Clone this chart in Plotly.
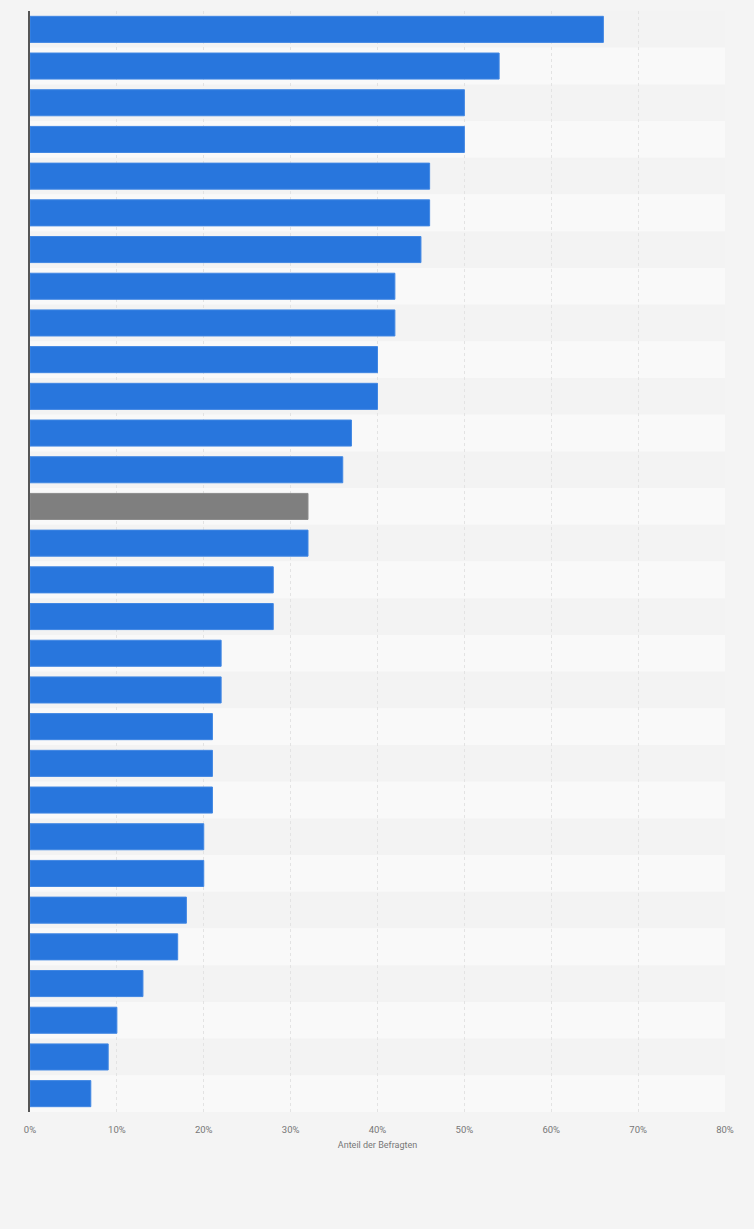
import plotly.graph_objects as go

# Werte (Anteil der Befragten in %), von oben nach unten
kategorien = [f"Kategorie {i}" for i in range(1, 31)]
werte = [66, 54, 50, 50, 46, 46, 45, 42, 42, 40,
         40, 37, 36, 32, 32, 28, 28, 22, 22, 21,
         21, 21, 20, 20, 18, 17, 13, 10, 9, 7]
hervorgehoben = 13  # index of the grey bar
tick_werte = [0, 10, 20, 30, 40, 50, 60, 70, 80]
tick_texte = [f"{t}%" for t in tick_werte]

farben = ["#7f7f7f" if i == hervorgehoben else "#2876dd" for i in range(len(werte))]
linien = ["#8c8c8c" if i == hervorgehoben else "#4187e3" for i in range(len(werte))]

fig = go.Figure()
fig.add_trace(go.Bar(
    x=werte,
    y=kategorien,
    orientation="h",
    width=0.71,
    marker=dict(color=farben, line=dict(color=linien, width=1)),
    hoverinfo="x+y",
))

# alternating row bands
shapes = []
for i in range(len(kategorien)):
    shapes.append(dict(
        type="rect", xref="paper", yref="y",
        x0=0, x1=1, y0=i - 0.5, y1=i + 0.5,
        fillcolor="#f3f3f3" if i % 2 == 0 else "#f9f9f9",
        line=dict(width=0), layer="below",
    ))

fig.update_layout(
    width=754, height=1229,
    margin=dict(l=30, r=29, t=11, b=117),
    paper_bgcolor="#f4f4f4",
    plot_bgcolor="#f9f9f9",
    shapes=shapes,
    showlegend=False,
    bargap=0.29,
    font=dict(family="Roboto, Arial, sans-serif", size=10, color="#666666"),
)
fig.update_xaxes(
    range=[0, 80],
    tickvals=tick_werte,
    ticktext=tick_texte,
    showgrid=True,
    gridcolor="#e3e3e3",
    griddash="dot",
    gridwidth=1,
    zeroline=False,
    ticks="",
    ticklabelstandoff=10,
    tickfont=dict(size=9.5, color="#777777"),
    title=dict(text="Anteil der Befragten", font=dict(size=9, color="#777777"), standoff=8),
)
fig.update_yaxes(
    autorange="reversed",
    showticklabels=False,
    showgrid=False,
    showline=True,
    linecolor="#555555",
    linewidth=2,
    ticks="",
)

# page has a default body margin; drop it so the figure fills the window
fig.write_html(
    "out.html",
    config={"displayModeBar": False},
    post_script="document.body.style.margin='0';document.body.style.overflow='hidden';",
)
